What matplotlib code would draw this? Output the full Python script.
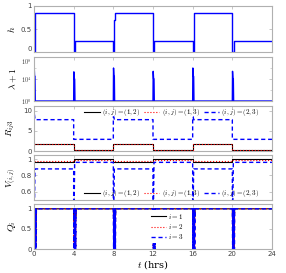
import numpy as np
import matplotlib
matplotlib.use("Agg")
import matplotlib.pyplot as plt

plt.rcParams['mathtext.fontset'] = 'cm'
plt.rcParams['font.family'] = 'DejaVu Sans'

# switching instants (hrs)
sw = [0, 4, 8, 12, 16, 20, 24]

# h
h_lvl = [0.85, 0.25, 0.85, 0.25, 0.85, 0.25]
h_kick = [0.7, 0.0, 0.7, 0.0, 0.7, 0.0]

# lambda + 1 spikes
lam_pk = [1.6e6, 2.0e5, 1.0e6, 2.5e5, 1.0e6, 2.5e5]
lam_mid = [3e4, 1e4, 3e4, 1e4, 3e4, 1e4]

# R_ij3
r12 = [1.8, 0.35, 1.8, 0.35, 1.8, 0.35]
r13 = [1.75, 0.3, 1.75, 0.3, 1.75, 0.3]
r23 = [7.8, 2.9, 7.8, 2.9, 7.8, 2.9]
r23_pk = [9.0, 2.9, 8.5, 2.9, 8.5, 2.9]

# V_(i,j)
v12 = [0.97, 1.0, 0.97, 1.0, 0.97, 1.0]
v13 = [0.975, 0.995, 0.975, 0.995, 0.975, 0.995]
v23 = [0.88, 0.96, 0.88, 0.96, 0.88, 0.96]
v23_dip = 0.45

# Q_i transients after each switch
q_dt = [0, 0.03, 0.06, 0.09, 0.12, 0.15, 0.18, 0.21, 0.24]
q1_tr = [1, 0.7, 0.95, 0.72, 1.0, 0.0, 1.0, 0.8, 1.0]
q2_tr = [1, 0.0, 1.0, 0.1, 0.9, 0.0, 1.0, 0.05, 1.0]
q3_tr = [1, 0.0, 1.0, 0.0, 1.0, 0.05, 1.0, 0.0, 1.0]


def build(levels, tr_dt, tr_vals):
    t, v = [], []
    for k, lev in enumerate(levels):
        vals = tr_vals[k]
        for d, val in zip(tr_dt, vals):
            t.append(sw[k] + d)
            v.append(val)
        t.append(sw[k + 1])
        v.append(lev)
    return np.array(t), np.array(v)


def steps(levels):
    t, v = [], []
    for k, lev in enumerate(levels):
        t += [sw[k], sw[k + 1]]
        v += [lev, lev]
    return np.array(t), np.array(v)


th, yh = build(h_lvl, [0, 0.1, 0.1, 0.15, 0.15],
               [[0, 0, hk, hk, hl] for hk, hl in zip(h_kick, h_lvl)])
tl, yl = build([1] * 6, [0, 0.02, 0.06, 0.1, 0.13],
               [[1, p, m, m, 1] for p, m in zip(lam_pk, lam_mid)])
t12, y12 = steps(r12)
t13, y13 = steps(r13)
t23, y23 = build(r23, [0, 0.05, 0.1], [[p, p, l] for p, l in zip(r23_pk, r23)])
tv12, yv12 = steps(v12)
tv13, yv13 = steps(v13)
tv23, yv23 = build(v23, [0, 0.05, 0.1], [[v23_dip, v23_dip, l] for l in v23])
tq1, yq1 = build([1] * 6, q_dt, [q1_tr] * 6)
tq2, yq2 = build([1] * 6, q_dt, [q2_tr] * 6)
tq3, yq3 = build([1] * 6, q_dt, [q3_tr] * 6)

fig = plt.figure(figsize=(2.86, 2.73), dpi=100)
L, W = 34 / 286, 238 / 286
tops = [6, 57, 106, 155, 204]
bots = [52, 101, 151, 200, 249]
axs = []
for tp, bt in zip(tops, bots):
    axs.append(fig.add_axes([L, 1 - bt / 273, W, (bt - tp) / 273]))

gray = '#b0b0b0'
for ax in axs:
    ax.set_xlim(0, 24)
    ax.set_xticks([0, 4, 8, 12, 16, 20, 24])
    for s in ax.spines.values():
        s.set_color(gray)
        s.set_linewidth(0.8)
    ax.tick_params(direction='in', length=2, width=0.5, color=gray,
                   labelsize=5, labelcolor='#404040', pad=1.5,
                   top=True, right=True)
    ax.tick_params(which='minor', direction='in', length=1.5, width=0.4,
                   color=gray, top=True, right=True)
    ax.yaxis.label.set_size(7)

blue = '#0000ff'
lw = 1.0

ax = axs[0]
ax.plot(th, yh, color=blue, lw=lw)
ax.set_ylim(0, 1)
ax.set_yticks([0, 0.5, 1])
ax.set_yticklabels(['0', '0.5', '1'])
ax.get_yticklabels()[0].set_va('bottom')
ax.set_ylabel('$h$', labelpad=3)
ax.set_xticklabels([])

ax = axs[1]
ax.plot(tl, yl, color=blue, lw=lw)
ax.set_yscale('log')
ax.set_ylim(1, 1e8)
ax.set_yticks([1, 1e4, 1e8])
ax.set_yticklabels(['$10^0$', '$10^4$', '$10^8$'], fontsize=4.5)
ax.get_yticklabels()[2].set_va('top')
ax.set_yticks([1e2, 1e6], minor=True)
ax.set_yticklabels([], minor=True)
ax.set_ylabel(r'$\lambda+1$', labelpad=2)
ax.set_xticklabels([])

ax = axs[2]
ax.plot(t12, y12, color='k', lw=0.8, label='$(i,j)=(1,2)$')
ax.plot(t13, y13, color='r', lw=0.8, ls=':', label='$(i,j)=(1,3)$')
ax.plot(t23, y23, color=blue, lw=lw, ls='--', dashes=(3, 2), label='$(i,j)=(2,3)$')
ax.set_ylim(0, 11.2)
ax.set_yticks([0, 5, 10])
ax.set_ylabel('$R_{ij3}$', labelpad=4)
ax.set_xticklabels([])
ax.legend(loc='center', bbox_to_anchor=(0.58, 0.85), ncol=3, fontsize=5,
          frameon=False, handlelength=2.2, handletextpad=0.3, columnspacing=0.6)

ax = axs[3]
ax.plot(tv12, yv12, color='k', lw=0.8, label='$(i,j)=(1,2)$')
ax.plot(tv13, yv13, color='r', lw=0.8, ls=':', label='$(i,j)=(1,3)$')
ax.plot(tv23, yv23, color=blue, lw=lw, ls='--', dashes=(3, 2), label='$(i,j)=(2,3)$')
ax.set_ylim(0.5, 1.05)
ax.set_yticks([0.6, 0.8, 1])
ax.set_yticklabels(['0.6', '0.8', '1'])
ax.set_ylabel('$V_{(i,j)}$', labelpad=1)
ax.set_xticklabels([])
ax.legend(loc='center', bbox_to_anchor=(0.58, 0.14), ncol=3, fontsize=5,
          frameon=False, handlelength=2.2, handletextpad=0.3, columnspacing=0.6)

ax = axs[4]
ax.plot(tq1, yq1, color='k', lw=0.8, label='$i=1$')
ax.plot(tq2, yq2, color='r', lw=0.8, ls=':', label='$i=2$')
ax.plot(tq3, yq3, color=blue, lw=lw, ls='--', dashes=(3, 2), label='$i=3$')
ax.set_ylim(0, 1.12)
ax.set_yticks([0, 0.5, 1])
ax.set_yticklabels(['0', '0.5', '1'])
ax.set_ylabel('$Q_i$', labelpad=2)
ax.set_xlabel('$t$ (hrs)', fontsize=7, labelpad=1,
              fontfamily='DejaVu Serif')
ax.legend(loc='center', bbox_to_anchor=(0.56, 0.5), fontsize=5,
          frameon=True, edgecolor='none', framealpha=1, fancybox=False,
          handlelength=2.2, handletextpad=0.3, borderpad=0.2, labelspacing=0.2)

fig.savefig('out.png', dpi=100)
